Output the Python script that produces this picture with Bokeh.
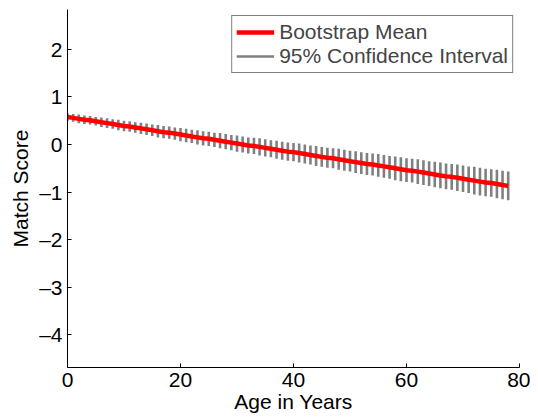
from bokeh.plotting import figure
from bokeh.models import Range1d, FixedTicker, Legend, LegendItem, CustomJSTickFormatter
from bokeh.embed import file_html
from bokeh.resources import INLINE

ages = list(range(0, 79))
mean_score = [0.58, 0.56, 0.54, 0.52, 0.51, 0.49, 0.47, 0.45, 0.43, 0.41,
              0.39, 0.38, 0.36, 0.34, 0.32, 0.30, 0.28, 0.26, 0.25, 0.23,
              0.21, 0.19, 0.17, 0.15, 0.13, 0.12, 0.10, 0.08, 0.06, 0.04,
              0.02, 0.00, -0.02, -0.03, -0.05, -0.07, -0.09, -0.11, -0.13, -0.15,
              -0.16, -0.18, -0.20, -0.22, -0.24, -0.26, -0.28, -0.29, -0.31, -0.33,
              -0.35, -0.37, -0.39, -0.41, -0.42, -0.44, -0.46, -0.48, -0.50, -0.52,
              -0.54, -0.55, -0.57, -0.59, -0.61, -0.63, -0.65, -0.67, -0.68, -0.70,
              -0.72, -0.74, -0.76, -0.78, -0.80, -0.81, -0.83, -0.85, -0.87]
ci_half = [0.08, 0.08, 0.09, 0.09, 0.09, 0.09, 0.10, 0.10, 0.10, 0.11,
           0.11, 0.11, 0.11, 0.12, 0.12, 0.12, 0.13, 0.13, 0.13, 0.13,
           0.14, 0.14, 0.14, 0.15, 0.15, 0.15, 0.15, 0.16, 0.16, 0.16,
           0.17, 0.17, 0.17, 0.17, 0.18, 0.18, 0.18, 0.19, 0.19, 0.19,
           0.19, 0.20, 0.20, 0.20, 0.21, 0.21, 0.21, 0.21, 0.22, 0.22,
           0.22, 0.23, 0.23, 0.23, 0.23, 0.24, 0.24, 0.24, 0.25, 0.25,
           0.25, 0.25, 0.26, 0.26, 0.26, 0.27, 0.27, 0.27, 0.27, 0.28,
           0.28, 0.28, 0.29, 0.29, 0.29, 0.29, 0.30, 0.30, 0.30]
ci_lower = [m - h for m, h in zip(mean_score, ci_half)]
ci_upper = [m + h for m, h in zip(mean_score, ci_half)]

x_ticks = [0, 20, 40, 60, 80]
y_ticks = [-4, -3, -2, -1, 0, 1, 2]

FONT = "Liberation Sans"
FS = "21px"

p = figure(width=530, height=419, output_backend="svg", toolbar_location=None,
           x_range=Range1d(0, 80), y_range=Range1d(-4.69, 2.84),
           min_border_left=67, min_border_right=11, min_border_top=9,
           min_border_bottom=52, x_axis_label="Age in Years",
           y_axis_label="Match Score")
p.outline_line_color = None
p.xgrid.visible = False
p.ygrid.visible = False

r_ci = p.segment(x0=ages, y0=ci_lower, x1=ages, y1=ci_upper,
                 line_color="#808080", line_width=2.6)
r_mean = p.line(ages, mean_score, line_color="#ff0000", line_width=4.5)

fmt = CustomJSTickFormatter(code="return (tick < 0 ? '\u2013' + Math.abs(tick) : '' + tick);")
for ax, ticks in ((p.xaxis[0], x_ticks), (p.yaxis[0], y_ticks)):
    ax.ticker = FixedTicker(ticks=ticks)
    ax.formatter = fmt
    ax.minor_tick_line_color = None
    ax.major_tick_in = 4
    ax.major_tick_out = 0
    ax.axis_line_color = "black"
    ax.major_tick_line_color = "black"
    ax.major_label_text_font = FONT
    ax.major_label_text_font_size = FS
    ax.major_label_text_color = "black"
    ax.axis_label_text_font = FONT
    ax.axis_label_text_font_size = FS
    ax.axis_label_text_font_style = "normal"
    ax.axis_label_text_color = "black"

p.xaxis[0].major_label_standoff = 5
p.xaxis[0].axis_label_standoff = 0
p.yaxis[0].major_label_standoff = 5
p.yaxis[0].axis_label_standoff = 4

legend = Legend(items=[LegendItem(label="Bootstrap Mean", renderers=[r_mean]),
                       LegendItem(label="95% Confidence Interval", renderers=[r_ci])],
                location="top_right", margin=6, padding=4, spacing=0,
                glyph_width=38, label_standoff=5,
                label_text_font=FONT, label_text_font_size=FS,
                border_line_color="black", border_line_width=1,
                background_fill_color="white", background_fill_alpha=1)
p.add_layout(legend)

open("out.html", "w").write(file_html(p, INLINE))
